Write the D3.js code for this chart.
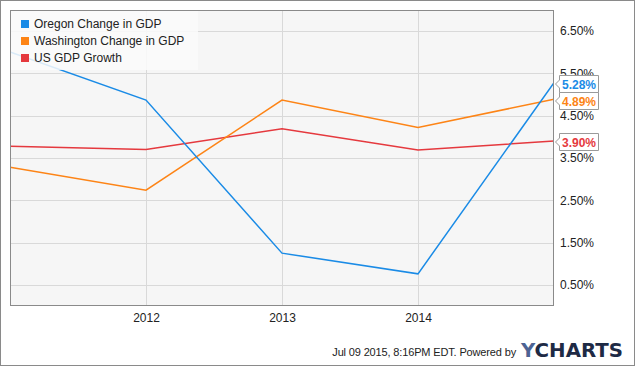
<!DOCTYPE html>
<html>
<head>
<meta charset="utf-8">
<script src="https://cdn.jsdelivr.net/npm/d3@7"></script>
<style>
body { margin: 0; background: #fff; }
svg { display: block; font-family: "Liberation Sans", Arial, sans-serif; }
</style>
</head>
<body>
<svg id="chart"></svg>
<script>
// data
let years = [2011, 2012, 2013, 2014, 2015]
let oregon = [6.01, 4.87, 1.25, 0.76, 5.28]
let washington = [3.28, 2.74, 4.87, 4.22, 4.89]
let usGrowth = [3.78, 3.70, 4.19, 3.69, 3.90]
let yTicks = [0.5, 1.5, 2.5, 3.5, 4.5, 5.5, 6.5]
let xTicks = [2012, 2013, 2014]

let seriesNames = ["Oregon Change in GDP", "Washington Change in GDP", "US GDP Growth"]
let seriesColors = ["#1a8be6", "#fd8416", "#e5393e"]
let seriesValues = [oregon, washington, usGrowth]

let W = 635, H = 366
let plot = {left: 10, top: 10, right: 554, bottom: 306}

let svg = d3.select("#chart")
    .attr("width", W)
    .attr("height", H)

// outer frame
svg.append("rect")
    .attr("x", 0.5).attr("y", 0.5)
    .attr("width", W - 1).attr("height", H - 1)
    .attr("fill", "#fff")
    .attr("stroke", "#8a8a8a")

let xScale = d3.scaleLinear()
    .domain([2011, 2015])
    .range([plot.left, plot.right])

let yScale = d3.scaleLinear()
    .domain([0, 7])
    .range([plot.bottom, plot.top])

svg.append("rect")
    .attr("x", plot.left).attr("y", plot.top)
    .attr("width", plot.right - plot.left)
    .attr("height", plot.bottom - plot.top)
    .attr("fill", "#f6f6f6")

// grid
let grid = svg.append("g")
grid.selectAll(".hgrid").data(yTicks).enter()
    .append("line")
    .attr("x1", plot.left).attr("x2", plot.right)
    .attr("y1", d => Math.round(yScale(d)) + 0.5)
    .attr("y2", d => Math.round(yScale(d)) + 0.5)
    .attr("stroke", "#d9d9d9")
grid.selectAll(".vgrid").data(xTicks).enter()
    .append("line")
    .attr("y1", plot.top).attr("y2", plot.bottom)
    .attr("x1", d => Math.round(xScale(d)) + 0.5)
    .attr("x2", d => Math.round(xScale(d)) + 0.5)
    .attr("stroke", "#d9d9d9")

// axes
let yAxis = d3.axisRight(yScale)
    .tickValues(yTicks)
    .tickSize(0)
    .tickPadding(6)
    .tickFormat(d => d3.format(".2f")(d) + "%")
let yG = svg.append("g")
    .attr("transform", "translate(" + plot.right + ",0)")
    .call(yAxis)
yG.select(".domain").remove()
yG.selectAll("text").attr("font-size", 12).attr("fill", "#222").attr("font-family", "Liberation Sans, Arial")

let xAxis = d3.axisBottom(xScale)
    .tickValues(xTicks)
    .tickSize(0)
    .tickPadding(7)
    .tickFormat(d3.format("d"))
let xG = svg.append("g")
    .attr("transform", "translate(0," + plot.bottom + ")")
    .call(xAxis)
xG.select(".domain").remove()
xG.selectAll("text").attr("font-size", 12).attr("fill", "#222").attr("font-family", "Liberation Sans, Arial")

// lines
let line = d3.line()
    .x((d, i) => xScale(years[i]))
    .y(d => yScale(d))

svg.append("clipPath").attr("id", "plotclip")
    .append("rect")
    .attr("x", plot.left).attr("y", plot.top)
    .attr("width", plot.right - plot.left)
    .attr("height", plot.bottom - plot.top)

// draw in reverse so Oregon sits on top
for (let k = seriesValues.length - 1; k >= 0; k--) {
    svg.append("path")
        .datum(seriesValues[k])
        .attr("d", line)
        .attr("fill", "none")
        .attr("stroke", seriesColors[k])
        .attr("stroke-width", 1.5)
        .attr("clip-path", "url(#plotclip)")
}

// plot border
svg.append("rect")
    .attr("x", plot.left + 0.5).attr("y", plot.top + 0.5)
    .attr("width", plot.right - plot.left - 1)
    .attr("height", plot.bottom - plot.top - 1)
    .attr("fill", "none")
    .attr("stroke", "#8a8a8a")

// legend
let legend = svg.append("g")
legend.append("rect")
    .attr("x", plot.left + 1).attr("y", plot.top + 1)
    .attr("width", 187).attr("height", 59)
    .attr("fill", "#fafafa")
    .attr("opacity", 0.85)
let items = legend.selectAll(".item").data(seriesNames).enter()
    .append("g")
    .attr("transform", (d, i) => "translate(21," + (20 + i * 17) + ")")
items.append("rect")
    .attr("width", 8).attr("height", 8)
    .attr("fill", (d, i) => seriesColors[i])
items.append("text")
    .attr("x", 13).attr("y", 8)
    .attr("font-size", 12)
    .attr("fill", "#222")
    .text(d => d)

// end value labels
let labelY = [84, 101, 142]
let tags = svg.selectAll(".tag").data(seriesValues).enter()
    .append("g")
    .attr("transform", (d, i) => "translate(" + (plot.right + 1) + "," + labelY[i] + ")")
tags.append("path")
    .attr("d", "M0.5,0 L4.5,-4 L4.5,-8.5 L43.5,-8.5 L43.5,8.5 L4.5,8.5 L4.5,4 Z")
    .attr("fill", "#fff")
    .attr("stroke", "#9a9a9a")
tags.append("text")
    .attr("x", 7).attr("y", 4.5)
    .attr("font-size", 12)
    .attr("font-weight", "bold")
    .attr("fill", (d, i) => seriesColors[i])
    .text(d => d3.format(".2f")(d[d.length - 1]) + "%")

// footer
svg.append("text")
    .attr("x", 516).attr("y", 356)
    .attr("text-anchor", "end")
    .attr("font-size", 11)
    .attr("letter-spacing", -0.15)
    .attr("fill", "#222")
    .text("Jul 09 2015, 8:16PM EDT.  Powered by")
let logo = svg.append("text")
    .attr("x", 521).attr("y", 357)
    .attr("font-size", 20)
    .attr("font-weight", "bold")
    .attr("font-family", "DejaVu Sans, sans-serif")
    .attr("textLength", 102)
    .attr("lengthAdjust", "spacingAndGlyphs")
logo.append("tspan").attr("fill", "#4d6393").text("Y")
logo.append("tspan").attr("fill", "#1e2a45").text("CHARTS")
</script>
</body>
</html>
